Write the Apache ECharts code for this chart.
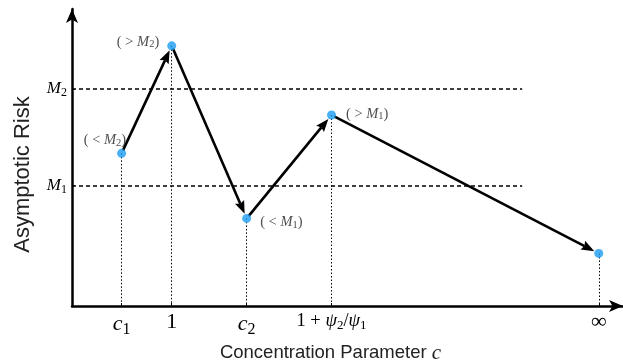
<!DOCTYPE html>
<html>
<head>
<meta charset="utf-8">
<script src="https://cdn.jsdelivr.net/npm/echarts@6/dist/echarts.min.js"></script>
<style>
  html, body { margin: 0; padding: 0; background: #fff; }
  #chart { width: 623px; height: 363px; }
</style>
</head>
<body>
<div id="chart"></div>
<script>
// Positions along the concentration axis (arbitrary schematic units)
const xPositions = [9.0, 18.1, 31.7, 47.1, 95.6];
// Asymptotic risk at each position
const riskValues = [51.4, 87.6, 29.5, 64.3, 17.7];
// Tick labels on the concentration axis (rich-text markup)
const xTickLabels = [
  '{i|c}{s|1}',
  '{r|1}',
  '{i|c}{s|2}',
  '{rs|1 + }{is|ψ}{ss|2}{rs|/}{is|ψ}{ss|1}',
  '{r|∞}'
];
// Reference risk levels M1 and M2
const levelValues = [40.5, 73.1];
const levelLabels = ['{i|M}{s|1}', '{i|M}{s|2}'];
const levelLineEnd = 81.7;
// Comparison note beside each point
const pointNotes = ['( < {i|M}{s|2})', '( > {i|M}{s|2})', '( < {i|M}{s|1})', '( > {i|M}{s|1})', ''];
const notePositions = ['left', 'left', 'right', 'right', 'right'];
const noteOffsets = [[15, -13], [-2, -4], [3, 4], [4, -1], [0, 0]];

const serif = '"Liberation Serif", "DejaVu Serif", serif';
const sans = '"Liberation Sans", Arial, sans-serif';

const tickRich = {
  r: { fontFamily: serif, fontSize: 22, color: '#000' },
  i: { fontFamily: serif, fontSize: 22, fontStyle: 'italic', color: '#000' },
  s: { fontFamily: serif, fontSize: 16, color: '#000', padding: [11, 0, 0, 0] },
  rs: { fontFamily: serif, fontSize: 18.5, color: '#000' },
  is: { fontFamily: serif, fontSize: 18.5, fontStyle: 'italic', color: '#000' },
  ss: { fontFamily: serif, fontSize: 13, color: '#000', padding: [8, 0, 0, 0] }
};
const levelRich = {
  i: { fontFamily: serif, fontSize: 17, fontStyle: 'italic', color: '#000' },
  s: { fontFamily: serif, fontSize: 12, color: '#000', padding: [8, 0, 0, 0] }
};
const noteRich = {
  i: { fontFamily: serif, fontSize: 14.5, fontStyle: 'italic', color: '#222' },
  s: { fontFamily: serif, fontSize: 10.5, color: '#222', padding: [5, 0, 0, 0] }
};

const points = xPositions.map((x, k) => ({
  value: [x, riskValues[k]],
  label: { show: !!pointNotes[k], position: notePositions[k], offset: noteOffsets[k], formatter: pointNotes[k] }
}));

// Consecutive point pairs joined by arrows
const segments = [];
for (let k = 0; k + 1 < xPositions.length; k++) {
  segments.push([xPositions[k], riskValues[k], xPositions[k + 1], riskValues[k + 1]]);
}

function renderArrow(params, api) {
  const a = api.coord([api.value(0), api.value(1)]);
  const b = api.coord([api.value(2), api.value(3)]);
  const dx = b[0] - a[0], dy = b[1] - a[1];
  const len = Math.sqrt(dx * dx + dy * dy);
  const ux = dx / len, uy = dy / len;
  const nx = -uy, ny = ux;
  const startGap = 3, tipGap = 5, headLen = 13, headHalf = 5, notch = 2;
  const s = [a[0] + ux * startGap, a[1] + uy * startGap];
  const tip = [b[0] - ux * tipGap, b[1] - uy * tipGap];
  const base = [tip[0] - ux * headLen, tip[1] - uy * headLen];
  const back = [base[0] + ux * notch, base[1] + uy * notch];
  return {
    type: 'group',
    children: [
      { type: 'line', shape: { x1: s[0], y1: s[1], x2: back[0], y2: back[1] },
        style: { stroke: '#000', lineWidth: 2.6 } },
      { type: 'polygon', shape: { points: [
          tip,
          [base[0] + nx * headHalf, base[1] + ny * headHalf],
          back,
          [base[0] - nx * headHalf, base[1] - ny * headHalf]
        ] }, style: { fill: '#000' } }
    ]
  };
}

const chart = echarts.init(document.getElementById('chart'), null, { renderer: 'canvas' });
chart.setOption({
  animation: false,
  backgroundColor: '#fff',
  grid: { left: 72, right: 0, top: 9, bottom: 57, containLabel: false, outerBoundsMode: 'none' },
  xAxis: {
    type: 'value', min: 0, max: 100,
    name: 'Concentration Parameter {c|c}',
    nameLocation: 'middle', nameGap: 29,
    nameTextStyle: {
      fontFamily: sans, fontSize: 18.5, color: '#222', padding: [0, 34, 0, 0],
      rich: { c: { fontFamily: serif, fontSize: 21, fontStyle: 'italic', color: '#222' } }
    },
    axisLine: { lineStyle: { color: '#000', width: 2.5 }, symbol: ['none', 'arrow'], symbolSize: [9, 14] },
    axisTick: { show: true, inside: true, length: 3, customValues: xPositions, lineStyle: { color: '#000', width: 1 } },
    axisLabel: {
      customValues: xPositions, margin: 5,
      formatter: v => xTickLabels[xPositions.indexOf(v)] || '',
      rich: tickRich
    },
    splitLine: { show: false }
  },
  yAxis: {
    type: 'value', min: 0, max: 100,
    name: 'Asymptotic Risk',
    nameLocation: 'middle', nameGap: 38,
    nameTextStyle: { fontFamily: sans, fontSize: 22, color: '#222', padding: [0, 0, 0, -34] },
    axisLine: { lineStyle: { color: '#000', width: 2.5 }, symbol: ['none', 'arrow'], symbolSize: [9, 14] },
    axisTick: { show: true, inside: true, length: 3, customValues: levelValues, lineStyle: { color: '#000', width: 1 } },
    axisLabel: {
      customValues: levelValues, margin: 5,
      formatter: v => levelLabels[levelValues.indexOf(v)] || '',
      rich: levelRich
    },
    splitLine: { show: false }
  },
  series: [
    {
      // reference levels and drop lines to the concentration axis
      type: 'line',
      data: [],
      z: 1,
      markLine: {
        z: 1,
        silent: true, symbol: 'none', animation: false,
        label: { show: false },
        emphasis: { disabled: true },
        data: [
          ...levelValues.map(v => [
            { coord: [0, v], lineStyle: { color: '#000', width: 1.6, type: [4, 3] } },
            { coord: [levelLineEnd, v] }
          ]),
          ...xPositions.map((x, k) => [
            { coord: [x, riskValues[k]], lineStyle: { color: '#000', width: 1, type: [1.5, 2] } },
            { coord: [x, 0] }
          ])
        ]
      }
    },
    {
      type: 'custom',
      renderItem: renderArrow,
      data: segments,
      z: 3,
      silent: true
    },
    {
      type: 'scatter',
      symbol: 'circle', symbolSize: 9,
      itemStyle: { color: '#1b9cf3' },
      z: 4,
      data: points,
      label: { distance: 6, fontFamily: serif, fontSize: 14.5, color: '#222', rich: noteRich }
    }
  ]
});
</script>
</body>
</html>
